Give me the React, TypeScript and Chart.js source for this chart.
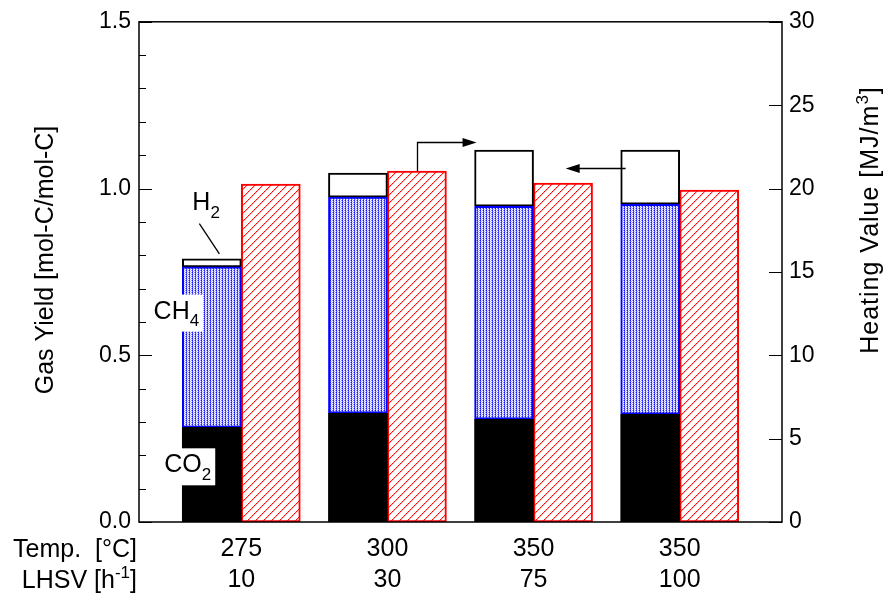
import React, { useEffect, useRef } from 'react';
import { Chart, registerables } from 'chart.js';

Chart.register(...registerables);

// ---------------- data ----------------
const groupIndex = [0, 1, 2, 3];
const tempLabels = ['275', '300', '350', '350'];
const lhsvLabels = ['10', '30', '75', '100'];
// gas yield components [mol-C/mol-C] (stacked)
const co2Yield = [0.284, 0.326, 0.308, 0.323];
const ch4Yield = [0.481, 0.648, 0.639, 0.630];
const h2Yield = [0.024, 0.072, 0.168, 0.162];
// heating value [MJ/m3]
const heatingValue = [20.26, 21.04, 20.32, 19.9];

const leftMin = 0;
const leftMax = 1.5;
const leftStep = 0.5;
const leftMinorStep = 0.1;
const rightMin = 0;
const rightMax = 30;
const rightStep = 5;

const FF = '"Liberation Sans", Arial, Helvetica, sans-serif';

type Seg = { t: string; s?: 'sup' | 'sub' };

// annotation anchors in data units (x index axis, left y axis)
const labelCO2 = { x: -0.527, y: 0.149 };
const labelCH4 = { x: -0.6, y: 0.61 };
const labelH2 = { x: -0.335, y: 0.935 };
const h2Leader = { x1: -0.287, y1: 0.895, x2: -0.15, y2: 0.804 };
const arrowRight = { x: 1.2, yFrom: 21.04, yCorner: 22.77, xTip: 1.61 }; // right axis
const arrowLeft = { y: 1.061, xFrom: 2.63, xTip: 2.22 }; // left axis

function segFont(size: number, s?: string) {
  return `${s ? Math.round(size * 0.66) : size}px ${FF}`;
}

function measureRich(ctx: CanvasRenderingContext2D, segs: Seg[], size: number) {
  let w = 0;
  for (const seg of segs) {
    ctx.font = segFont(size, seg.s);
    w += ctx.measureText(seg.t).width;
  }
  return w;
}

function drawRich(
  ctx: CanvasRenderingContext2D,
  segs: Seg[],
  x: number,
  y: number,
  size: number,
  align: 'left' | 'right' | 'center'
) {
  const w = measureRich(ctx, segs, size);
  let cx = align === 'right' ? x - w : align === 'center' ? x - w / 2 : x;
  ctx.textAlign = 'left';
  ctx.textBaseline = 'alphabetic';
  for (const seg of segs) {
    ctx.font = segFont(size, seg.s);
    const dy = seg.s === 'sup' ? -size * 0.4 : seg.s === 'sub' ? size * 0.3 : 0;
    ctx.fillText(seg.t, cx, y + dy);
    cx += ctx.measureText(seg.t).width;
  }
  return w;
}

function arrowHead(ctx: CanvasRenderingContext2D, tx: number, ty: number, dir: number) {
  const L = 14;
  const H = 4.5;
  ctx.beginPath();
  ctx.moveTo(tx, ty);
  ctx.lineTo(tx - dir * L, ty - H);
  ctx.lineTo(tx - dir * L, ty + H);
  ctx.closePath();
  ctx.fill();
}

const decorPlugin = {
  id: 'decor',
  afterDraw(chart: any) {
    const { ctx, chartArea: a, scales } = chart;
    const xs = scales.x;
    const ys = scales.y;
    const y2s = scales.y2;
    ctx.save();
    ctx.strokeStyle = '#000';
    ctx.fillStyle = '#000';

    // frame
    ctx.lineWidth = 1.5;
    ctx.strokeRect(a.left, a.top, a.right - a.left, a.bottom - a.top);

    // left ticks (major + minor, inward)
    ctx.lineWidth = 1;
    const nMinor = Math.round((leftMax - leftMin) / leftMinorStep);
    for (let i = 0; i <= nMinor; i++) {
      const v = leftMin + i * leftMinorStep;
      const py = Math.round(ys.getPixelForValue(v)) + 0.5;
      const isMajor = Math.abs(v / leftStep - Math.round(v / leftStep)) < 1e-6;
      const len = isMajor ? 13 : 7;
      ctx.beginPath();
      ctx.moveTo(a.left, py);
      ctx.lineTo(a.left + len, py);
      ctx.stroke();
    }
    // right ticks
    for (const t of y2s.ticks) {
      const py = Math.round(y2s.getPixelForValue(t.value)) + 0.5;
      ctx.beginPath();
      ctx.moveTo(a.right - 13, py);
      ctx.lineTo(a.right, py);
      ctx.stroke();
    }

    // axis titles (rotated, reading upward)
    ctx.save();
    ctx.translate(53, 260);
    ctx.rotate(-Math.PI / 2);
    drawRich(ctx, [{ t: 'Gas Yield [mol-C/mol-C]' }], 0, 0, 25, 'center');
    ctx.restore();

    ctx.save();
    ctx.translate(878, 220);
    ctx.rotate(-Math.PI / 2);
    (ctx as any).letterSpacing = '1px';
    drawRich(ctx, [{ t: 'Heating Value [MJ/m' }, { t: '3', s: 'sup' }, { t: ']' }], 0, 0, 25, 'center');
    (ctx as any).letterSpacing = '0px';
    ctx.restore();

    // bottom-left row labels
    const rowY1 = xs.top + 35;
    const rowY2 = rowY1 + 31;
    drawRich(ctx, [{ t: 'Temp.  [°C]' }], a.left - 2, rowY1, 25, 'right');
    drawRich(ctx, [{ t: 'LHSV [h' }, { t: '-1', s: 'sup' }, { t: ']' }], a.left - 2, rowY2, 25, 'right');

    // in-plot labels
    const boxLabel = (segs: Seg[], pos: { x: number; y: number }) => {
      const px = xs.getPixelForValue(pos.x);
      const py = ys.getPixelForValue(pos.y);
      const w = measureRich(ctx, segs, 25);
      ctx.fillStyle = '#fff';
      ctx.fillRect(px - 5, py - 24, w + 9, 37);
      ctx.fillStyle = '#000';
      drawRich(ctx, segs, px, py, 25, 'left');
    };
    boxLabel([{ t: 'CO' }, { t: '2', s: 'sub' }], labelCO2);
    boxLabel([{ t: 'CH' }, { t: '4', s: 'sub' }], labelCH4);
    drawRich(
      ctx,
      [{ t: 'H' }, { t: '2', s: 'sub' }],
      xs.getPixelForValue(labelH2.x),
      ys.getPixelForValue(labelH2.y),
      25,
      'left'
    );
    ctx.lineWidth = 1.3;
    ctx.beginPath();
    ctx.moveTo(xs.getPixelForValue(h2Leader.x1), ys.getPixelForValue(h2Leader.y1));
    ctx.lineTo(xs.getPixelForValue(h2Leader.x2), ys.getPixelForValue(h2Leader.y2));
    ctx.stroke();

    // arrows
    ctx.lineWidth = 1.3;
    const ax = Math.round(xs.getPixelForValue(arrowRight.x)) + 0.5;
    const ay0 = y2s.getPixelForValue(arrowRight.yFrom);
    const ay1 = Math.round(y2s.getPixelForValue(arrowRight.yCorner)) + 0.5;
    const atip = xs.getPixelForValue(arrowRight.xTip);
    ctx.beginPath();
    ctx.moveTo(ax, ay0);
    ctx.lineTo(ax, ay1);
    ctx.lineTo(atip - 10, ay1);
    ctx.stroke();
    arrowHead(ctx, atip, ay1, 1);

    const by = Math.round(ys.getPixelForValue(arrowLeft.y)) + 0.5;
    const bx0 = xs.getPixelForValue(arrowLeft.xFrom);
    const btip = xs.getPixelForValue(arrowLeft.xTip);
    ctx.beginPath();
    ctx.moveTo(bx0, by);
    ctx.lineTo(btip + 10, by);
    ctx.stroke();
    arrowHead(ctx, btip, by, -1);

    ctx.restore();
  },
};

function makeBluePattern(ctx: CanvasRenderingContext2D) {
  const c = document.createElement('canvas');
  c.width = 3;
  c.height = 2;
  const g = c.getContext('2d')!;
  const px = (x: number, y: number, col: string) => {
    g.fillStyle = col;
    g.fillRect(x, y, 1, 1);
  };
  px(0, 0, '#1414ff');
  px(0, 1, '#6262ff');
  px(1, 0, '#ffffff');
  px(1, 1, '#b0b0ff');
  px(2, 0, '#9090ff');
  px(2, 1, '#ffffff');
  return ctx.createPattern(c, 'repeat')!;
}

function makeRedPattern(ctx: CanvasRenderingContext2D) {
  const c = document.createElement('canvas');
  c.width = 8;
  c.height = 8;
  const g = c.getContext('2d')!;
  g.fillStyle = '#ffffff';
  g.fillRect(0, 0, 8, 8);
  for (let i = 0; i < 8; i++) {
    g.fillStyle = i % 2 === 0 ? '#ff0000' : '#ff3c3c';
    g.fillRect(i, 7 - i, 1, 1);
    g.fillStyle = '#ffb4b4';
    g.fillRect((i + 1) % 8, 7 - i, 1, 1);
  }
  return ctx.createPattern(c, 'repeat')!;
}

export default function App() {
  const ref = useRef<HTMLCanvasElement | null>(null);

  useEffect(() => {
    const canvas = ref.current;
    if (!canvas) return;
    const ctx = canvas.getContext('2d')!;
    const blue = makeBluePattern(ctx);
    const red = makeRedPattern(ctx);

    const pts = (vals: number[]) => vals.map((v, i) => ({ x: groupIndex[i], y: v }));

    const chart = new Chart(canvas, {
      type: 'bar',
      data: {
        datasets: [
          {
            label: 'CO2',
            data: pts(co2Yield),
            stack: 'gas',
            yAxisID: 'y',
            backgroundColor: '#000000',
            borderWidth: 0,
            barThickness: 59,
          },
          {
            label: 'CH4',
            data: pts(ch4Yield),
            stack: 'gas',
            yAxisID: 'y',
            backgroundColor: blue,
            borderColor: '#0000ff',
            borderWidth: 2,
            borderSkipped: false,
            barThickness: 59,
          },
          {
            label: 'H2',
            data: pts(h2Yield),
            stack: 'gas',
            yAxisID: 'y',
            backgroundColor: '#ffffff',
            borderColor: '#000000',
            borderWidth: 2,
            borderSkipped: false,
            barThickness: 59,
          },
          {
            label: 'Heating Value',
            data: pts(heatingValue),
            stack: 'hv',
            yAxisID: 'y2',
            backgroundColor: red,
            borderColor: '#ff0000',
            borderWidth: 2,
            borderSkipped: false,
            barThickness: 59,
          },
        ] as any,
      },
      options: {
        responsive: false,
        animation: false,
        layout: { padding: { top: 20, left: 0, right: 0, bottom: 0 } },
        plugins: {
          legend: { display: false },
          tooltip: { enabled: false },
          title: { display: false },
        },
        scales: {
          x: {
            type: 'linear',
            min: -0.7,
            max: 3.7,
            offset: false,
            grid: { display: false, drawTicks: false },
            border: { display: false },
            afterBuildTicks: (scale: any) => {
              scale.ticks = groupIndex.map((v) => ({ value: v }));
            },
            afterFit: (scale: any) => {
              scale.height = 81;
            },
            ticks: {
              autoSkip: false,
              maxRotation: 0,
              padding: 12,
              color: '#000',
              font: { family: FF, size: 25, lineHeight: 1.24 },
              callback: (_v: any, i: number) => [tempLabels[i], lhsvLabels[i]],
            },
          },
          y: {
            type: 'linear',
            position: 'left',
            min: leftMin,
            max: leftMax,
            stacked: true,
            grid: { display: false, drawTicks: false },
            border: { display: false },
            afterFit: (scale: any) => {
              scale.width = 139;
            },
            ticks: {
              stepSize: leftStep,
              padding: 8,
              color: '#000',
              font: { family: FF, size: 23 },
              callback: (v: any) => Number(v).toFixed(1),
            },
          },
          y2: {
            type: 'linear',
            position: 'right',
            min: rightMin,
            max: rightMax,
            grid: { display: false, drawTicks: false },
            border: { display: false },
            afterFit: (scale: any) => {
              scale.width = 104;
            },
            ticks: {
              stepSize: rightStep,
              padding: 7,
              color: '#000',
              font: { family: FF, size: 23 },
            },
          },
        },
      } as any,
      plugins: [decorPlugin],
    });

    return () => chart.destroy();
  }, []);

  return (
    <div style={{ position: 'fixed', left: 0, top: 0, width: 886, height: 603, background: '#fff' }}>
      <canvas ref={ref} width={886} height={603} />
    </div>
  );
}
